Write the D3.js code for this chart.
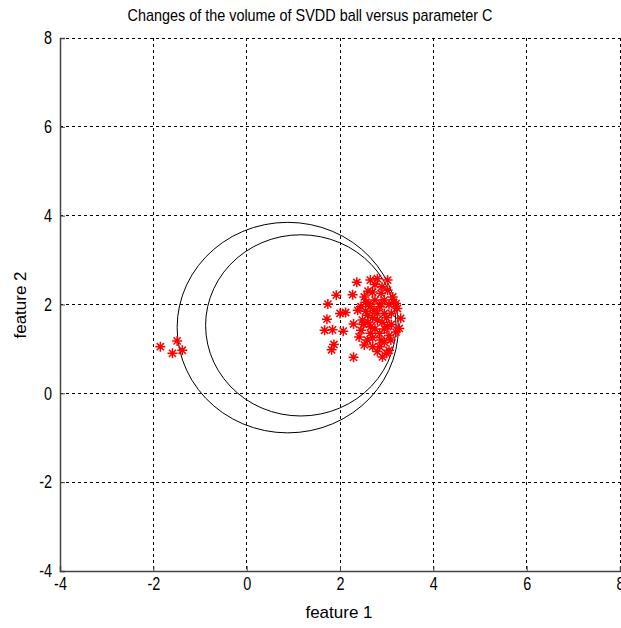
<!DOCTYPE html>
<html><head><meta charset="utf-8">
<script src="https://cdn.jsdelivr.net/npm/d3@7"></script>
<style>body{margin:0;background:#fff}svg{display:block}</style>
</head><body><svg id="c" width="621" height="628"></svg>
<script>
const title = "Changes of the volume of SVDD ball versus parameter C";
const xLabel = "feature 1", yLabel = "feature 2";
const xTicks = [-4,-2,0,2,4,6,8];
const yTicks = [-4,-2,0,2,4,6,8];
// SVDD balls: [cx, cy, r]
const balls = [[0.88,1.48,2.37],[1.16,1.53,2.04]];
// data points feature1 / feature2
const px = [-1.85,-1.59,-1.49,-1.38,
 2.36,1.92,2.27,1.74,2.00,2.12,1.72,1.67,1.84,2.07,2.29,1.87,1.82,2.29,
 2.52,2.62,2.70,2.88,3.02,3.13,3.20,3.23,3.30,3.27,3.20,3.09,2.88,2.80,2.91,2.59,2.45,2.48,2.38,2.59,2.80,2.95,2.88,2.73,2.66,3.02,3.05,2.70,2.52,2.41,
 2.55,2.65,2.75,2.85,2.95,3.05,2.60,2.70,2.80,2.90,3.00,3.10,2.65,2.75,2.85,2.95,3.05,2.55,2.70,2.95,2.60,2.75,2.90,3.10,3.15,2.50,2.85,3.00,2.45,2.65,2.80,3.02];
const py = [1.05,0.90,1.18,0.97,
 2.50,2.21,2.22,2.01,1.80,1.82,1.67,1.42,1.43,1.40,1.56,1.10,0.98,0.81,
 2.17,2.02,2.28,2.25,2.32,2.17,2.02,1.91,1.69,1.46,1.38,1.20,1.20,0.94,0.82,1.20,1.42,1.65,1.87,1.76,1.65,1.80,2.02,1.87,1.50,1.50,0.97,1.05,1.09,1.27,
 2.05,1.95,2.10,1.95,2.10,2.00,1.60,1.70,1.80,1.60,1.70,1.80,1.35,1.45,1.35,1.45,1.30,1.85,1.25,1.15,2.30,2.45,2.40,1.55,2.05,1.55,1.05,0.90,1.95,2.55,2.58,2.55];

const svg = d3.select("#c");
const L=60, R=620, T=38, B=571;
const x = d3.scaleLinear().domain([-4,8]).range([L,R]);
const y = d3.scaleLinear().domain([-4,8]).range([B,T]);
const font = "'Liberation Sans',Arial,sans-serif";
const fmt = d => String(d);

// grid
const g = svg.append("g");
g.selectAll(".gx").data(xTicks.slice(1)).join("line")
 .attr("x1",d=>x(d)).attr("x2",d=>x(d)).attr("y1",T).attr("y2",B)
 .attr("stroke","#000").attr("stroke-width",1).attr("stroke-dasharray","3,3").attr("shape-rendering","crispEdges");
g.selectAll(".gy").data(yTicks.slice(1)).join("line")
 .attr("y1",d=>y(d)).attr("y2",d=>y(d)).attr("x1",L).attr("x2",R)
 .attr("stroke","#000").attr("stroke-width",1).attr("stroke-dasharray","3,3").attr("shape-rendering","crispEdges");

// axes
const xa = svg.append("g").attr("transform",`translate(0,${B})`)
 .call(d3.axisBottom(x).tickValues(xTicks).tickSize(-5).tickPadding(6).tickFormat(fmt));
const ya = svg.append("g").attr("transform",`translate(${L},0)`)
 .call(d3.axisLeft(y).tickValues(yTicks).tickSize(-5).tickPadding(8).tickFormat(fmt));
[xa,ya].forEach(a=>{
 a.select(".domain").attr("stroke","#444").attr("stroke-width",1.5);
 a.selectAll(".tick line").attr("stroke","#444");
 a.selectAll("text").attr("font-family",font).attr("font-size",18).attr("fill","#000")
  .each(function(){ const w=this.getComputedTextLength(); d3.select(this).attr("textLength",w*0.8).attr("lengthAdjust","spacingAndGlyphs"); });
});

// balls
const ang = d3.range(0, 361, 6);
const line = d3.line();
balls.forEach(([cx,cy,r])=>{
 svg.append("path")
  .attr("d", line(ang.map(a=>[x(cx + r*Math.cos(a*Math.PI/180)), y(cy + r*Math.sin(a*Math.PI/180))])))
  .attr("fill","none").attr("stroke","#000").attr("stroke-width",1);
});

// points as asterisks
const s = 5, s2 = 3.6;
const pts = svg.append("g").attr("stroke","#ff0000").attr("stroke-width",1.5).attr("fill","none");
px.forEach((vx,i)=>{
 const cx = x(vx), cy = y(py[i]);
 pts.append("path").attr("d",
  `M${cx-s},${cy}L${cx+s},${cy}M${cx},${cy-s}L${cx},${cy+s}M${cx-s2},${cy-s2}L${cx+s2},${cy+s2}M${cx-s2},${cy+s2}L${cx+s2},${cy-s2}`);
});

// texts
svg.append("text").attr("x",310).attr("y",21).attr("text-anchor","middle")
 .attr("font-family",font).attr("font-size",17).attr("textLength",365).attr("lengthAdjust","spacingAndGlyphs").text(title);
svg.append("text").attr("x",339).attr("y",618).attr("text-anchor","middle")
 .attr("font-family",font).attr("font-size",17).text(xLabel);
svg.append("text").attr("transform",`translate(26,305) rotate(-90)`).attr("text-anchor","middle")
 .attr("font-family",font).attr("font-size",17).text(yLabel);
</script></body></html>
